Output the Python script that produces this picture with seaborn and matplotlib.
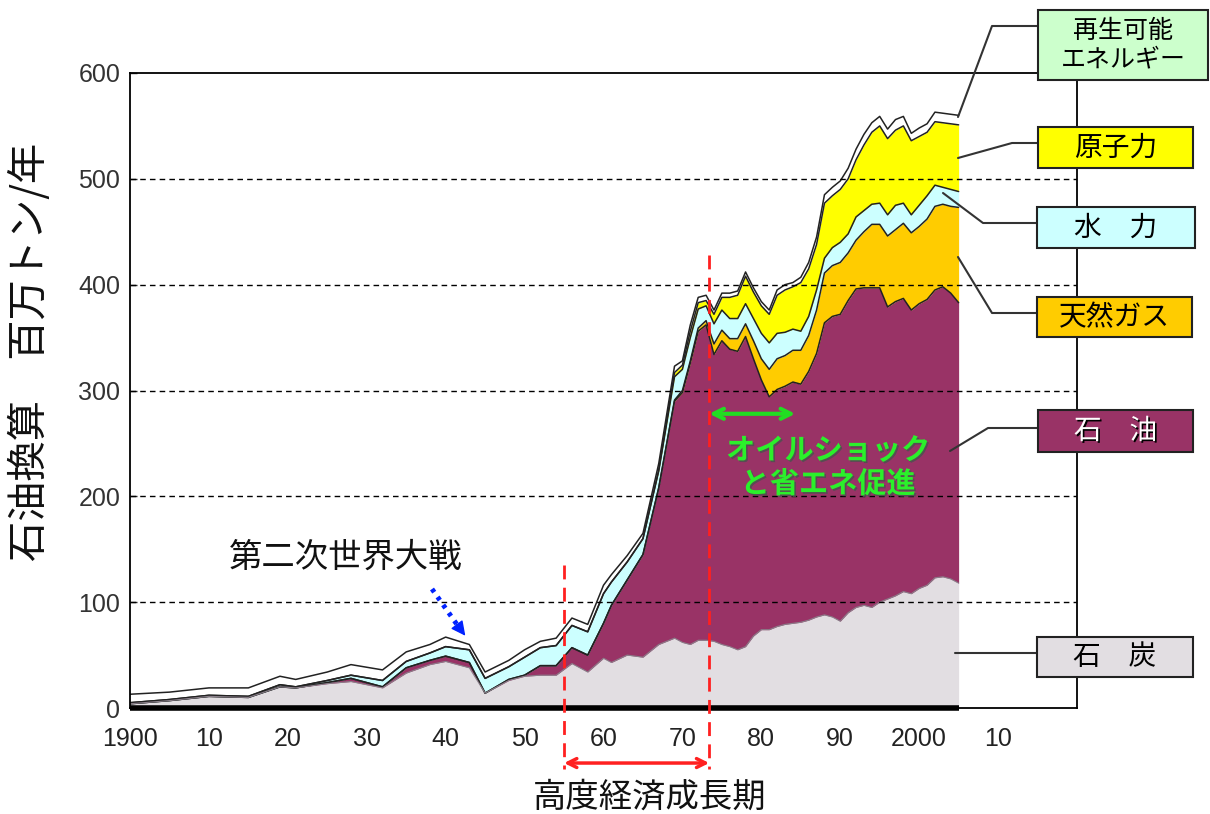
import matplotlib
matplotlib.use('Agg')
import matplotlib.pyplot as plt
import matplotlib.patheffects as pe
from matplotlib.patches import Rectangle, FancyArrowPatch
from matplotlib.lines import Line2D
from matplotlib import font_manager
import numpy as np
import pandas as pd
import seaborn as sns

# --- data (million tonnes oil equivalent / year) ---
years = [1900, 1905, 1910, 1915, 1919, 1921, 1925, 1928, 1932, 1935, 1938, 1940,
         1943, 1945, 1948, 1950, 1952, 1954, 1956, 1958, 1960, 1961, 1963, 1965,
         1967, 1969, 1970, 1971, 1972, 1973, 1974, 1975, 1976, 1977, 1978, 1979,
         1980, 1981, 1982, 1983, 1984, 1985, 1986, 1987, 1988, 1989, 1990, 1991,
         1992, 1993, 1994, 1995, 1996, 1997, 1998, 1999, 2000, 2001, 2002, 2003,
         2004, 2005]
coal = [4, 7, 11, 10, 20, 19, 23, 25, 19, 33, 41, 44,
        38, 14, 26, 30, 31, 31, 42, 34, 47, 43, 50, 48,
        60, 66, 62, 60, 64, 64, 63, 60, 58, 55, 58, 68,
        74, 74, 77, 79, 80, 81, 83, 86, 88, 86, 82, 90,
        95, 97, 95, 100, 103, 106, 110, 108, 113, 116, 123, 124,
        122, 118]
oil = [0, 0, 0, 0, 0, 0, 1, 3, 1, 5, 4, 5,
       5, 0, 1, 1, 9, 9, 15, 16, 33, 54, 71, 97,
       148, 224, 236, 266, 292, 298, 271, 287, 281, 282, 293, 262,
       236, 220, 224, 225, 228, 225, 235, 249, 276, 284, 290, 295,
       301, 300, 302, 297, 276, 278, 277, 268, 269, 270, 272, 274,
       270, 265]
gas = [0, 0, 0, 0, 0, 0, 0, 0, 0, 0, 0, 0,
       0, 0, 0, 0, 0, 0, 0, 0, 0, 0, 0, 0,
       0, 1, 2, 2, 3, 4, 10, 10, 10, 12, 12, 17,
       20, 26, 29, 29, 30, 32, 34, 41, 47, 48, 49, 45,
       46, 53, 60, 60, 67, 68, 71, 73, 73, 76, 79, 78,
       82, 90]
hydro = [1, 1, 1, 1, 2, 1, 2, 3, 6, 6, 7, 9,
         12, 14, 12, 17, 17, 19, 21, 22, 28, 22, 17, 15,
         16, 22, 20, 22, 18, 14, 19, 19, 19, 19, 19, 21,
         24, 25, 24, 22, 20, 18, 18, 19, 14, 17, 19, 18,
         22, 20, 19, 20, 20, 23, 19, 17, 20, 22, 20, 16,
         16, 15]
nuclear = [0, 0, 0, 0, 0, 0, 0, 0, 0, 0, 0, 0,
           0, 0, 0, 0, 0, 0, 0, 0, 0, 0, 0, 0,
           1, 4, 4, 6, 6, 5, 9, 12, 20, 22, 26, 25,
           26, 27, 36, 40, 40, 46, 45, 43, 52, 49, 50, 52,
           54, 62, 68, 73, 72, 71, 73, 70, 65, 60, 60, 61,
           62, 63]
renewable = [8, 7, 7, 8, 8, 7, 8, 10, 10, 9, 8, 9,
             5, 6, 6, 7, 6, 7, 7, 7, 8, 7, 6, 5,
             6, 6, 4, 6, 5, 5, 4, 4, 4, 4, 4, 4,
             4, 4, 5, 5, 4, 5, 6, 7, 8, 8, 8, 10,
             10, 10, 9, 9, 9, 10, 9, 7, 8, 8, 9, 9,
             9, 9]

sources = ['石炭', '石油', '天然ガス', '水力', '原子力', '再生可能エネルギー']
colors = ['#E2DEE2', '#993366', '#FFCC00', '#CCFFFF', '#FFFF00', '#FFFFFF']
legend_labels = ['石　炭', '石　油', '天然ガス', '水　力', '原子力', '再生可能\nエネルギー']
legend_text_colors = ['black', 'white', 'black', 'black', 'black', 'black']

x_ticks = list(range(1900, 2011, 10))
x_tick_labels = ['1900', '10', '20', '30', '40', '50', '60', '70', '80', '90', '2000', '10']
x_minor_ticks = list(range(1905, 2016, 10))
y_ticks = [0, 100, 200, 300, 400, 500, 600]
grid_levels = [100, 200, 300, 400, 500]

growth_period = (1955, 1973.4)
oil_shock_period = (1973.4, 1984.3)

# --- figure ---
W, H = 1210, 814


def fig_xy(x, y):
    """pixel position (from top-left) -> figure fraction"""
    return x / W, 1 - y / H


sns.set_theme(style='white')
plt.rcParams['font.family'] = ['Noto Sans CJK JP', 'DejaVu Sans']
installed = {f.name for f in font_manager.fontManager.ttflist}
num_font = 'Liberation Sans Narrow' if 'Liberation Sans Narrow' in installed else 'Liberation Sans'

fig = plt.figure(figsize=(W / 100, H / 100), dpi=100)
ax = fig.add_axes([130 / W, 1 - 708 / H, (1077 - 130) / W, (708 - 73) / H])

df = pd.DataFrame({'年': years, '石炭': coal, '石油': oil, '天然ガス': gas,
                   '水力': hydro, '原子力': nuclear, '再生可能エネルギー': renewable})
stack = df[sources].cumsum(axis=1)

lower = np.zeros(len(years))
for name, color in zip(sources, colors):
    upper = stack[name].to_numpy()
    ax.fill_between(df['年'], lower, upper, color=color, lw=0, zorder=1)
    lower = upper

# boundary lines on top of each layer
long_df = stack.assign(年=years).melt(id_vars='年', var_name='source', value_name='累計')
sns.lineplot(data=long_df[long_df['source'] != '石炭'], x='年', y='累計', units='source',
             estimator=None, color='#222222', lw=1.1, ax=ax, legend=False, zorder=2)
sns.lineplot(x=df['年'], y=stack['石炭'], color='#8a7f8a', lw=0.8, ax=ax, zorder=2)

for v in grid_levels:
    ax.axhline(v, color='black', ls=(0, (4, 3)), lw=1.0, zorder=3)

# thick baseline under the data
ax.plot([years[0], years[-1]], [0, 0], color='black', lw=4, zorder=5, clip_on=False,
        solid_capstyle='butt')

ax.set_xlim(1900, 2020)
ax.set_ylim(0, 600)
ax.set_xlabel('')
ax.set_ylabel('')
ax.set_xticks(x_ticks, labels=x_tick_labels)
ax.set_xticks(x_minor_ticks, minor=True)
ax.set_yticks(y_ticks)
ax.tick_params(axis='x', which='both', direction='in', length=9, width=1.5,
               color='black', pad=14, labelsize=18, labelcolor='#222222')
ax.tick_params(axis='y', direction='in', length=5, width=1, pad=7,
               labelsize=18, labelcolor='#333333', left=True)
for lab in ax.get_xticklabels() + ax.get_yticklabels():
    lab.set_fontfamily(num_font)
for sp in ax.spines.values():
    sp.set_color('black')
    sp.set_linewidth(1.3)

# y axis title
fig.text(*fig_xy(30, 352), '石油換算　百万トン/年', rotation=90, ha='center', va='center',
         fontsize=29, color='#111111')

# WWII annotation
fig.text(*fig_xy(346, 557), '第二次世界大戦', ha='center', va='center', fontsize=24,
         color='#111111')
fig.add_artist(Line2D([432 / W, 458 / W], [1 - 589 / H, 1 - 626 / H], color='#0022FF',
                      lw=3.5, ls=(0, (0.8, 1.2)), transform=fig.transFigure))
fig.add_artist(FancyArrowPatch(fig_xy(455, 622), fig_xy(467, 638), arrowstyle='-|>',
                               mutation_scale=22, color='#0022FF', lw=1,
                               transform=fig.transFigure))

# high growth period markers
y_below = -58
ax.plot([growth_period[0]] * 2, [135, y_below], color='#FF2020', lw=2, ls=(0, (5, 3)),
        clip_on=False, zorder=6)
ax.plot([growth_period[1]] * 2, [428, y_below], color='#FF2020', lw=2, ls=(0, (5, 3)),
        clip_on=False, zorder=6)
ax.annotate('', xy=(growth_period[0], -52), xytext=(growth_period[1], -52),
            arrowprops=dict(arrowstyle='<->', color='#FF2020', lw=2.5, mutation_scale=16,
                            shrinkA=0, shrinkB=0), annotation_clip=False)
fig.text(*fig_xy(650, 797), '高度経済成長期', ha='center', va='center', fontsize=24,
         color='#111111')

# oil shock annotation
ax.annotate('', xy=(oil_shock_period[0], 278), xytext=(oil_shock_period[1], 278),
            arrowprops=dict(arrowstyle='<->', color='#22DD22', lw=3, mutation_scale=18,
                            shrinkA=0, shrinkB=0), zorder=7)
fig.text(*fig_xy(828, 467), 'オイルショック\nと省エネ促進', ha='center', va='center',
         fontsize=21, fontweight='bold', color='#2BF02B', linespacing=1.15,
         path_effects=[pe.withSimplePatchShadow(offset=(1.2, -1.2), shadow_rgbFace='#505050',
                                                alpha=0.9)])

# legend boxes with leader lines
boxes = {
    '再生可能エネルギー': (1038, 10, 1208, 80),
    '原子力': (1038, 127, 1193, 168),
    '水力': (1037, 207, 1195, 248),
    '天然ガス': (1037, 297, 1192, 337),
    '石油': (1038, 410, 1193, 452),
    '石炭': (1037, 637, 1193, 677),
}
leaders = {
    '再生可能エネルギー': [(1038, 26), (992, 26), (958, 117)],
    '原子力': [(1038, 143), (1012, 143), (958, 158)],
    '水力': [(1037, 223), (983, 223), (943, 193)],
    '天然ガス': [(1037, 313), (992, 313), (958, 257)],
    '石油': [(1038, 428), (988, 428), (950, 451)],
    '石炭': [(1037, 653), (955, 653)],
}
for name, color, label, tcolor in zip(sources, colors, legend_labels, legend_text_colors):
    pts = leaders[name]
    fig.add_artist(Line2D([p[0] / W for p in pts], [1 - p[1] / H for p in pts],
                          color='#333333', lw=1.5, transform=fig.transFigure, zorder=4))
    x0, y0, x1, y1 = boxes[name]
    face = '#CCFFCC' if name == '再生可能エネルギー' else color
    fig.add_artist(Rectangle(fig_xy(x0, y1), (x1 - x0) / W, (y1 - y0) / H,
                             transform=fig.transFigure, facecolor=face,
                             edgecolor='#222222', lw=1.5, zorder=5))
    effects = None
    if tcolor == 'white':
        effects = [pe.withSimplePatchShadow(offset=(1.2, -1.2), shadow_rgbFace='black', alpha=1)]
    fig.text(*fig_xy((x0 + x1) / 2, (y0 + y1) / 2), label, ha='center', va='center',
             fontsize=20 if '\n' not in label else 18, color=tcolor, zorder=6,
             linespacing=1.1, path_effects=effects)

fig.savefig('out.png', dpi=100)
